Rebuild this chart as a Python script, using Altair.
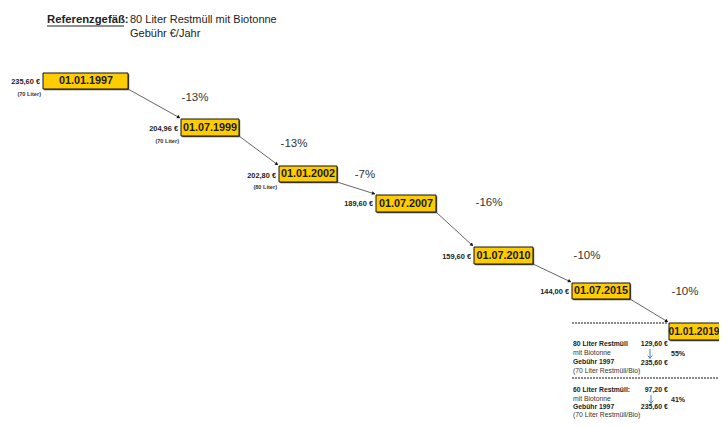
import altair as alt
import pandas as pd
import numpy as np

# ---------------- content ----------------
dates = ["01.01.1997", "01.07.1999", "01.01.2002", "01.07.2007",
         "01.07.2010", "01.07.2015", "01.01.2019"]
fees = ["235,60 €", "204,96 €", "202,80 €", "189,60 €", "159,60 €", "144,00 €"]
notes = ["(70 Liter)", "(70 Liter)", "(80 Liter)"]
changes = ["-13%", "-13%", "-7%", "-16%", "-10%", "-10%"]

head_label = "Referenzgefäß:"
head_lines = ["80 Liter Restmüll mit Biotonne", "Gebühr €/Jahr"]

block_left_1 = ["80 Liter Restmüll", "mit Biotonne", "Gebühr 1997", "(70 Liter Restmüll/Bio)"]
block_vals_1 = ["129,60 €", "235,60 €"]
block_pct_1 = "55%"
block_left_2 = ["60 Liter Restmüll:", "mit Biotonne", "Gebühr 1997", "(70 Liter Restmüll/Bio)"]
block_vals_2 = ["97,20 €", "235,60 €"]
block_pct_2 = "41%"
block_bold = [True, False, True, False]

# ---------------- layout (diagram positions) ----------------
box_left = [43, 181, 279, 376, 474, 572, 669]
box_right = [128, 239, 337, 436, 533, 630, 730]
box_top = [73, 119, 166, 195, 247, 283, 323]
box_bottom = [89, 136, 182, 212, 264, 299, 340]
date_x = [86, 210, 308, 406, 503.5, 601, 694]
date_size = [10.8, 10.8, 10.8, 10.8, 10.8, 10.8, 10.2]
pct_x = [195, 294, 365, 489, 587, 685]
pct_y = [98, 144, 175, 203, 256, 292]

FONT = "Liberation Sans, Arial, sans-serif"

W, H = 711, 411
XS = alt.Scale(domain=[8, 719], range=[0, W], nice=False, zero=False)
YS = alt.Scale(domain=[8, 419], range=[0, H], nice=False, zero=False)


def X(f="x"):
    return alt.X(f"{f}:Q", scale=XS, axis=None)


def Y(f="y"):
    return alt.Y(f"{f}:Q", scale=YS, axis=None)


def text_layer(df, size, bold=False, align="left", color="#222"):
    return alt.Chart(df).mark_text(
        font=FONT, fontSize=size, fontWeight="bold" if bold else "normal",
        align=align, baseline="middle", color=color
    ).encode(x=X(), y=Y(), text="t:N")


# boxes
boxes = pd.DataFrame({"x": box_left, "x2": box_right, "y": box_top, "y2": box_bottom,
                      "t": dates, "cx": date_x, "fs": date_size})
boxes["cy"] = (boxes.y + boxes.y2) / 2
shadow = boxes.copy()
for c in ["x", "x2", "y", "y2"]:
    shadow[c] = shadow[c] + 1.2

shadow_layer = alt.Chart(shadow).mark_rect(color="#555").encode(
    x=X(), x2="x2:Q", y=Y(), y2="y2:Q")
box_layer = alt.Chart(boxes).mark_rect(fill="#FFCC00", stroke="#111", strokeWidth=1).encode(
    x=X(), x2="x2:Q", y=Y(), y2="y2:Q")
date_layer = alt.Chart(boxes).mark_text(
    font=FONT, fontWeight="bold", align="center", baseline="middle", color="#1a1a1a"
).encode(x=X("cx"), y=Y("cy"), text="t:N", size=alt.Size("fs:Q", scale=None, legend=None))

# arrows between boxes
ax1 = [box_right[i] for i in range(6)]
ay1 = [box_bottom[i] for i in range(6)]
ax2 = [box_left[i + 1] - 1 for i in range(6)]
ay2 = [box_top[i + 1] - 1 for i in range(6)]
arr = pd.DataFrame({"x": ax1, "y": ay1, "x2": ax2, "y2": ay2})
dx = arr.x2 - arr.x
dy = arr.y2 - arr.y
ln = np.sqrt(dx ** 2 + dy ** 2)
arr["hx"] = arr.x2 - 2.0 * dx / ln
arr["hy"] = arr.y2 - 2.0 * dy / ln
arr["ang"] = (np.degrees(np.arctan2(dx, -dy))) % 360
arrow_lines = alt.Chart(arr).mark_rule(color="#666", strokeWidth=1).encode(
    x=X(), y=Y(), x2="x2:Q", y2="y2:Q")
arrow_heads = alt.Chart(arr).mark_point(shape="triangle", filled=True, color="#111",
                                        size=14, opacity=1).encode(
    x=X("hx"), y=Y("hy"), angle=alt.Angle("ang:Q", scale=None))

# fee labels
fee_df = pd.DataFrame({"x": [box_left[i] - 3 for i in range(6)],
                       "y": [82, 129, 176, 204, 257, 292], "t": fees})
fee_layer = text_layer(fee_df, 7.4, bold=True, align="right")
note_df = pd.DataFrame({"x": [box_left[i] - 2 for i in range(3)],
                        "y": [94, 141, 187], "t": notes})
note_layer = text_layer(note_df, 5.6, bold=True, align="right", color="#333")

# percent changes
pct_df = pd.DataFrame({"x": pct_x, "y": pct_y, "t": changes})
pct_layer = text_layer(pct_df, 11.5, align="center", color="#333")

# header
head_b = text_layer(pd.DataFrame({"x": [47], "y": [20], "t": [head_label]}), 11.3, bold=True,
                    color="#222")
head_r = text_layer(pd.DataFrame({"x": [130, 130], "y": [20, 34], "t": head_lines}), 11,
                    color="#222")
underline = alt.Chart(pd.DataFrame({"x": [47], "x2": [124], "y": [26]})).mark_rule(
    color="#222", strokeWidth=1).encode(x=X(), x2="x2:Q", y=Y())

# dashed separators
dash_df = pd.DataFrame({"x": [572, 572], "x2": [667, 719], "y": [323, 378]})
dash_layer = alt.Chart(dash_df).mark_rule(color="#111", strokeWidth=1,
                                          strokeDash=[2, 1]).encode(
    x=X(), x2="x2:Q", y=Y())

# summary blocks
rows_y1 = [344, 353, 362, 371]
rows_y2 = [390, 399, 407, 414.5]
bl = pd.DataFrame({
    "x": [573] * 8,
    "y": rows_y1 + rows_y2,
    "t": block_left_1 + block_left_2,
    "b": block_bold + block_bold,
})
bl_bold = text_layer(bl[bl.b], 6.8, bold=True)
bl_reg = text_layer(bl[~bl.b], 6.8, color="#333")
bv = pd.DataFrame({"x": [668] * 4, "y": [344, 363, 390, 407],
                   "t": block_vals_1 + block_vals_2})
bv_layer = text_layer(bv, 7, bold=True, align="right")
bp = pd.DataFrame({"x": [671, 671], "y": [354, 400], "t": [block_pct_1, block_pct_2]})
bp_layer = text_layer(bp, 7, bold=True)

# small blue down-arrows
blue = pd.DataFrame({"x": [650, 651], "y": [349, 395], "y2": [359, 404],
                     "hy": [358, 403]})
blue_lines = alt.Chart(blue).mark_rule(color="#4a7ebb", strokeWidth=1).encode(
    x=X(), y=Y(), y2="y2:Q")
blue_heads = alt.Chart(blue).mark_point(shape="M-1,-1L0,0L1,-1", filled=False,
                                        color="#4a7ebb", strokeWidth=1, size=22,
                                        opacity=1).encode(x=X(), y=Y("hy"))

chart = alt.layer(
    arrow_lines, arrow_heads, shadow_layer, box_layer, date_layer, fee_layer, note_layer,
    pct_layer, head_b, head_r, underline, dash_layer, bl_bold, bl_reg, bv_layer, bp_layer,
    blue_lines, blue_heads
).properties(
    width=W, height=H, padding=0, autosize=alt.AutoSizeParams(type="none")
).configure(background="white", view=alt.ViewConfig(stroke=None))

chart.save("out.html", embed_options={"renderer": "svg", "actions": False})
